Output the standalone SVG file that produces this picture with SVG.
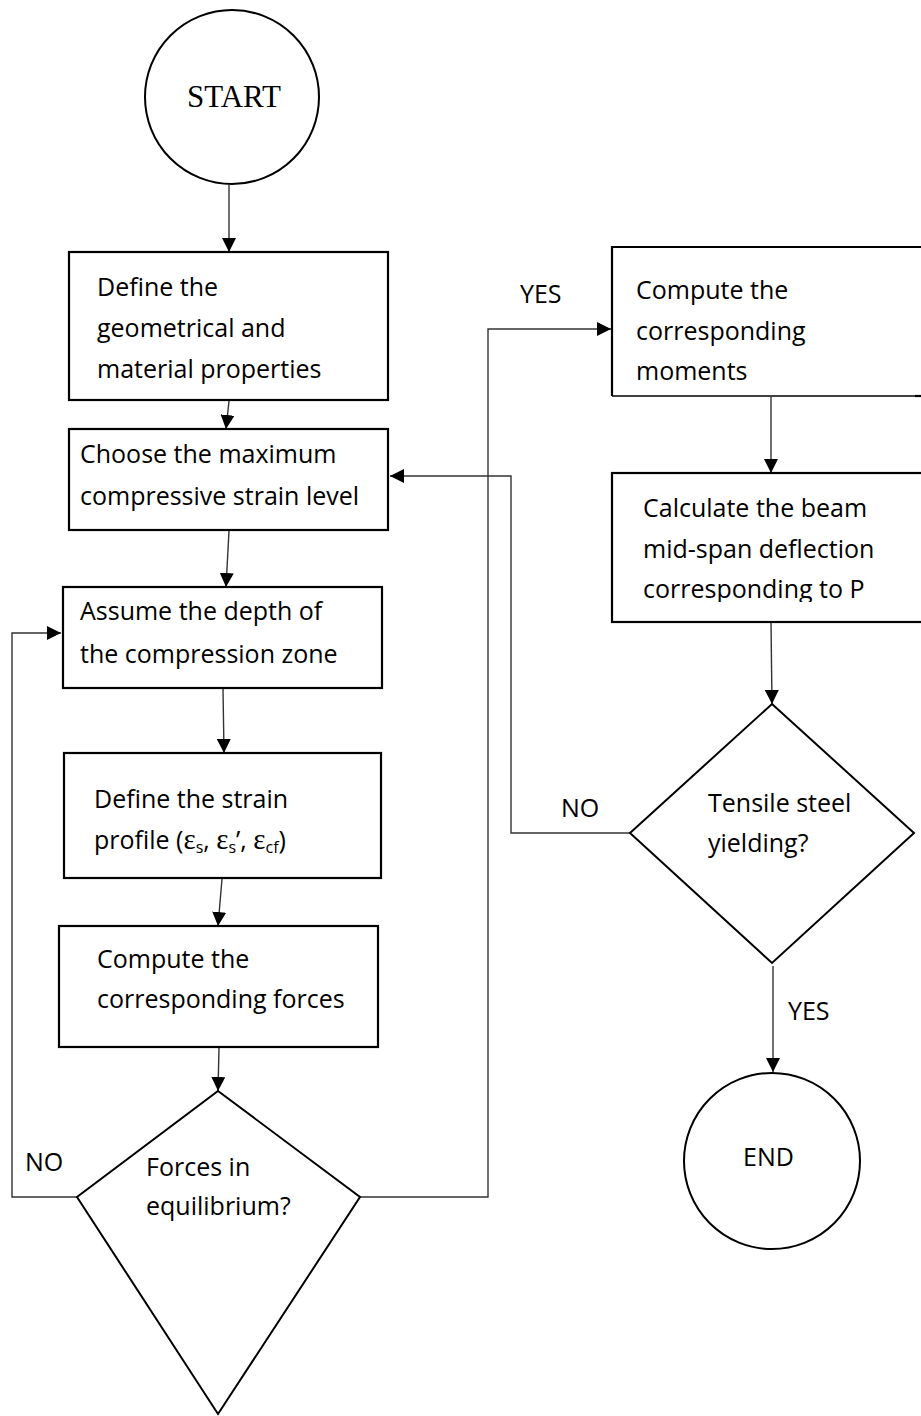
<svg xmlns="http://www.w3.org/2000/svg" width="921" height="1416" viewBox="0 0 921 1416">
<style>
.box{fill:#fff;stroke:#000;stroke-width:2.2}
.shape{fill:#fff;stroke:#000;stroke-width:2}
.conn{fill:none;stroke:#333;stroke-width:1.4}
.t{font-family:"Open Sans","Liberation Sans",sans-serif;font-size:25px;fill:#000}
.serif{font-family:"Liberation Serif",serif}
.eps{font-family:"Liberation Serif",serif;font-size:29px}
.sub{font-size:16px}
</style>
<defs>
<marker id="arr" markerUnits="userSpaceOnUse" markerWidth="15" markerHeight="14" refX="14" refY="7" orient="auto">
<path d="M0,0 L14,7 L0,14 z" fill="#000"/>
</marker>
<clipPath id="clip7"><rect x="612" y="473" width="310" height="129"/></clipPath>
</defs>
<rect width="921" height="1416" fill="#fff"/>
<g id="connectors">
<line class="conn" x1="229" y1="185" x2="229" y2="252" marker-end="url(#arr)"/>
<line class="conn" x1="229" y1="401" x2="226" y2="429" marker-end="url(#arr)"/>
<line class="conn" x1="229" y1="531" x2="226" y2="587" marker-end="url(#arr)"/>
<line class="conn" x1="223" y1="689" x2="224" y2="753" marker-end="url(#arr)"/>
<line class="conn" x1="222" y1="879" x2="218" y2="926" marker-end="url(#arr)"/>
<line class="conn" x1="219" y1="1048" x2="218" y2="1091" marker-end="url(#arr)"/>
<polyline class="conn" points="77,1197 12,1197 12,633 61,633" marker-end="url(#arr)"/>
<polyline class="conn" points="360,1197 488,1197 488,329 611,329" marker-end="url(#arr)"/>
<line class="conn" x1="771" y1="397" x2="771" y2="473" marker-end="url(#arr)"/>
<line class="conn" x1="771" y1="623" x2="772" y2="704" marker-end="url(#arr)"/>
<polyline class="conn" points="630,833 511,833 511,476 390,476" marker-end="url(#arr)"/>
<line class="conn" x1="773" y1="966" x2="773" y2="1072" marker-end="url(#arr)"/>
<text class="t" x="520" y="303">YES</text>
<text class="t" x="561" y="817">NO</text>
<text class="t" x="788" y="1020">YES</text>
<text class="t" x="25" y="1171">NO</text>
</g>
<g id="start">
<circle class="shape" cx="232" cy="97" r="87"/>
<text class="serif" x="187" y="107" font-size="31" fill="#000">START</text>
</g>
<g id="define-properties">
<rect class="box" x="69" y="252" width="319" height="148"/>
<text class="t" x="97" y="296">Define the</text>
<text class="t" x="97" y="337">geometrical and</text>
<text class="t" x="97" y="378">material properties</text>
</g>
<g id="choose-strain">
<rect class="box" x="69" y="429" width="319" height="101"/>
<text class="t" x="80" y="463">Choose the maximum</text>
<text class="t" x="80" y="505">compressive strain level</text>
</g>
<g id="assume-depth">
<rect class="box" x="63" y="587" width="319" height="101"/>
<text class="t" x="80" y="620">Assume the depth of</text>
<text class="t" x="80" y="663">the compression zone</text>
</g>
<g id="strain-profile">
<rect class="box" x="64" y="753" width="317" height="125"/>
<text class="t" x="94" y="808">Define the strain</text>
<text class="t" x="94" y="849">profile (<tspan class="eps">ε</tspan><tspan class="sub" dy="4">s</tspan><tspan dy="-4">, </tspan><tspan class="eps">ε</tspan><tspan class="sub" dy="4">s</tspan><tspan dy="-4">’, </tspan><tspan class="eps">ε</tspan><tspan class="sub" dy="4">cf</tspan><tspan dy="-4">)</tspan></text>
</g>
<g id="compute-forces">
<rect class="box" x="59" y="926" width="319" height="121"/>
<text class="t" x="97" y="968">Compute the</text>
<text class="t" x="97" y="1008">corresponding forces</text>
</g>
<g id="equilibrium">
<polygon class="shape" points="218,1091 360,1197 218,1414 77,1197"/>
<text class="t" x="146" y="1176">Forces in</text>
<text class="t" x="146" y="1215">equilibrium?</text>
</g>
<g id="compute-moments">
<path d="M922,247 H612 V396" fill="none" stroke="#000" stroke-width="2.2"/>
<path d="M612,396 H921" fill="none" stroke="#000" stroke-width="1.3"/>
<path d="M915,396 H921" fill="none" stroke="#000" stroke-width="2.2"/>
<text class="t" x="636" y="299">Compute the</text>
<text class="t" x="636" y="340">corresponding</text>
<text class="t" x="636" y="380">moments</text>
</g>
<g id="deflection">
<rect class="box" x="612" y="473" width="311" height="149"/>
<g clip-path="url(#clip7)">
<text class="t" x="643" y="517">Calculate the beam</text>
<text class="t" x="643" y="558">mid-span deflection</text>
<text class="t" x="643" y="598">corresponding to P</text>
</g>
</g>
<g id="yielding">
<polygon class="shape" points="772,704 914,833 772,963 630,833"/>
<text class="t" x="708" y="812">Tensile steel</text>
<text class="t" x="708" y="852">yielding?</text>
</g>
<g id="end">
<circle class="shape" cx="772" cy="1161" r="88"/>
<text class="t" x="743" y="1166" font-size="24">END</text>
</g>
</svg>
